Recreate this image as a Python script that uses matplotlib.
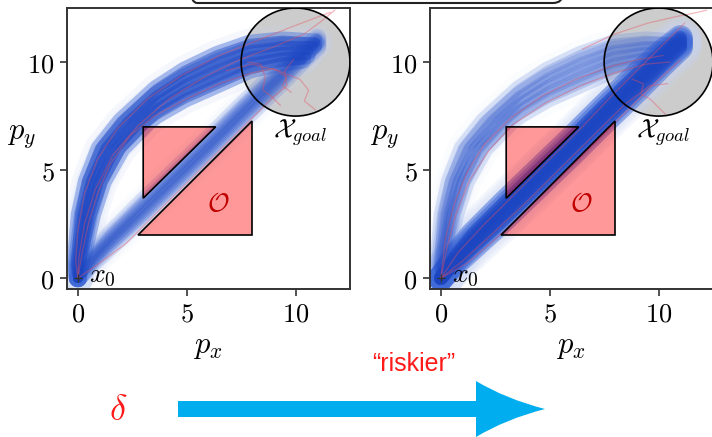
import matplotlib
matplotlib.use("Agg")
import matplotlib.pyplot as plt
from matplotlib.patches import Polygon, Circle, FancyBboxPatch, PathPatch
from matplotlib.path import Path

plt.rcParams['mathtext.fontset'] = 'cm'
plt.rcParams['font.family'] = ['DejaVu Sans']

# ---- scene -------------------------------------------------------------
tick_values = [0, 5, 10]
tick_labels = ['$0$', '$5$', '$10$']
axis_limits = (-0.5, 12.5)

# obstacle O, cut by a diagonal corridor
obstacle_upper = [(3.0, 7.0), (6.33, 7.0), (3.0, 3.70)]
obstacle_lower = [(2.74, 2.0), (8.0, 2.0), (8.0, 7.26)]

goal_center = (10.0, 10.0)
goal_radius = 2.5
start_point = (0.0, 0.0)

# ---- sampled trajectories ---------------------------------------------
# detour around the upper-left of the obstacle (outer -> inner member)
detour_x = [
    [0, -0.12, -0.04, 0.09, 0.41, 1.00, 1.98, 3.6, 4.9, 6.4, 7.9, 9.4, 10.9],
    [0, -0.06, 0.045, 0.23, 0.60, 1.25, 2.29, 3.6, 4.9, 6.4, 7.9, 9.4, 10.8],
    [0, 0.00, 0.13, 0.37, 0.78, 1.50, 2.60, 3.6, 4.9, 6.4, 7.9, 9.4, 10.6],
    [0, 0.06, 0.215, 0.51, 0.97, 1.75, 2.91, 3.6, 4.9, 6.4, 7.9, 9.4, 10.5],
    [0, 0.12, 0.30, 0.65, 1.15, 2.00, 3.22, 3.6, 4.9, 6.4, 7.9, 9.4, 10.3],
]
detour_y = [
    [0, 0.6, 1.4, 2.95, 4.48, 6.0, 7.25, 8.75, 9.60, 10.33, 10.85, 11.00, 10.90],
    [0, 0.6, 1.4, 2.95, 4.48, 6.0, 7.25, 8.45, 9.28, 9.99, 10.55, 10.75, 10.75],
    [0, 0.6, 1.4, 2.95, 4.48, 6.0, 7.25, 8.15, 8.95, 9.65, 10.25, 10.50, 10.55],
    [0, 0.6, 1.4, 2.95, 4.48, 6.0, 7.25, 7.85, 8.63, 9.31, 9.95, 10.25, 10.30],
    [0, 0.6, 1.4, 2.95, 4.48, 6.0, 7.25, 7.55, 8.30, 8.97, 9.65, 10.00, 10.10],
]

# straight run through the corridor (upper -> lower member)
corridor_x = [0, 0.7, 1.44, 3.0, 4.5, 6.0, 7.5, 9.0, 10.2, 11.0]
corridor_y = [
    [0, 1.08, 1.99, 3.56, 5.01, 6.46, 7.96, 9.41, 10.49, 11.12],
    [0, 0.99, 1.84, 3.38, 4.83, 6.28, 7.78, 9.23, 10.34, 11.01],
    [0, 0.90, 1.70, 3.20, 4.65, 6.10, 7.60, 9.05, 10.20, 10.90],
    [0, 0.81, 1.56, 3.02, 4.47, 5.92, 7.42, 8.87, 10.06, 10.79],
    [0, 0.72, 1.41, 2.84, 4.29, 5.74, 7.24, 8.69, 9.91, 10.68],
]

# constraint-violating samples, per panel
red_left_x = [
    [0, -0.1, 0.0, 0.3, 0.9, 1.8, 3.2, 4.8, 6.5, 8.0, 9.5, 10.8, 11.6],
    [0, 0.2, 0.5, 0.9, 1.5, 2.4, 3.5, 5.0, 6.5, 8.0, 9.0, 9.6, 9.4, 9.8],
    [0, 1.0, 2.2, 3.5, 5.0, 6.5, 8.0, 9.0, 9.6, 9.5, 9.9],
    [7.8, 8.4, 8.6, 8.5, 8.9, 9.3],
    [0, 0.05, 0.3, 0.8, 1.6, 2.8, 4.2, 5.8, 7.4, 9.0, 10.4, 11.2, 11.8],
    [6.8, 8.0, 9.2, 10.2, 10.6, 10.4, 10.9],
]
red_left_y = [
    [0, 0.8, 2.2, 3.9, 5.5, 6.9, 8.3, 9.4, 10.3, 10.9, 11.5, 12.0, 12.3],
    [0, 1.2, 2.6, 3.9, 5.3, 6.6, 7.5, 8.3, 9.0, 9.5, 9.7, 9.3, 8.9, 8.6],
    [0, 0.7, 1.6, 2.9, 4.4, 5.9, 7.4, 8.4, 8.9, 9.6, 10.1],
    [10.0, 9.9, 9.3, 8.7, 8.4, 8.0],
    [0, 1.0, 2.5, 4.1, 5.7, 7.1, 8.3, 9.3, 10.1, 10.7, 11.3, 11.9, 12.4],
    [9.6, 9.9, 9.6, 9.2, 8.7, 8.2, 7.8],
]
red_right_x = [
    [0, 1.2, 2.5, 4.0, 5.5, 7.0, 8.5, 9.8, 11.0],
    [0, 1.0, 2.3, 3.8, 5.4, 7.0, 8.4, 9.6, 10.4],
    [0, 0.8, 2.0, 3.5, 5.0, 6.5, 8.0, 9.5, 11.2],
    [0, 0.3, 0.7, 1.3, 2.2, 3.3, 4.8, 6.4, 8.0, 9.4, 10.5],
    [6.5, 8.0, 9.5, 10.8, 11.8, 12.2],
    [8.8, 9.3, 9.2, 9.6, 10.0, 10.3],
    [0, 0.2, 0.6, 1.2, 2.0, 3.2, 4.6, 6.2, 7.8, 9.0, 10.2],
]
red_right_y = [
    [0, 0.7, 1.8, 3.2, 4.7, 6.2, 7.7, 9.0, 10.1],
    [0, 0.8, 2.0, 3.4, 5.0, 6.6, 8.0, 8.9, 9.0],
    [0, 1.2, 2.5, 4.0, 5.5, 7.0, 8.6, 10.1, 11.8],
    [0, 1.5, 3.0, 4.5, 5.9, 7.1, 8.1, 8.9, 9.5, 9.9, 10.0],
    [10.6, 11.3, 11.8, 12.1, 12.3, 12.4],
    [9.2, 9.0, 8.5, 8.3, 7.9, 7.6],
    [0, 1.8, 3.4, 4.9, 6.2, 7.4, 8.4, 9.2, 9.8, 10.1, 10.3],
]

panels = [
    dict(left=67, detour_weight=1.4, corridor_weight=0.6, corridor_spread=1.0,
         red_x=red_left_x, red_y=red_left_y),
    dict(left=430, detour_weight=0.6, corridor_weight=1.7, corridor_spread=1.4,
         red_x=red_right_x, red_y=red_right_y),
]

W, H = 712, 437
fig = plt.figure(figsize=(W / 100, H / 100), dpi=100)

LINE = '#333333'
BAND_LAYERS = [  # (width, colour, opacity)
    (22, '#c9d5f4', 0.12),
    (13, '#3f6ad8', 0.30),
    (7, '#1c45c2', 0.32),
]


def draw_members(ax, xs, ys, weight, spread):
    style = dict(solid_capstyle='round', solid_joinstyle='round')
    for k, (lw, col, a) in enumerate(BAND_LAYERS):
        for x, y in zip(xs, ys):
            ax.plot(x, y, color=col, lw=lw * spread,
                    alpha=min(1.0, a * weight), zorder=2 + 0.05 * k, **style)


for p in panels:
    ax = fig.add_axes([p['left'] / W, (H - 289) / H, 283 / W, 281 / H])
    ax.set_xlim(*axis_limits)
    ax.set_ylim(*axis_limits)

    ax.add_patch(Circle(goal_center, goal_radius, facecolor='#cccccc',
                        edgecolor='none', zorder=1))

    draw_members(ax, detour_x, detour_y, p['detour_weight'], 1.0)
    cx = [corridor_x] * len(corridor_y)
    draw_members(ax, cx, corridor_y, p['corridor_weight'],
                 p['corridor_spread'])

    for x, y in zip(p['red_x'], p['red_y']):
        ax.plot(x, y, color='#e8505e', lw=0.9, alpha=0.4, zorder=2.3)

    ax.add_patch(Circle(goal_center, goal_radius, facecolor='none',
                        edgecolor='black', lw=1.2, zorder=3))
    for tri in (obstacle_upper, obstacle_lower):
        ax.add_patch(Polygon(tri, closed=True, facecolor=(1, 0, 0, 0.4),
                             edgecolor='black', lw=1.2, zorder=2.5))

    ax.plot(*start_point, marker='+', color='#333333', ms=6, mew=1.0,
            zorder=4)

    ax.text(0.5, 0.15, '$x_0$', fontsize=20, ha='left', va='center',
            zorder=5)
    ax.text(10.2, 6.75, r'$\mathcal{X}_{goal}$', fontsize=19, ha='center',
            va='center', zorder=5)
    ax.text(6.45, 3.45, r'$\mathcal{O}$', fontsize=19, color='#c00000',
            ha='center', va='center', zorder=5)

    ax.set_xticks(tick_values)
    ax.set_xticklabels(tick_labels)
    ax.set_yticks(tick_values)
    ax.set_yticklabels(tick_labels)
    ax.tick_params(labelsize=19, length=5, width=1.2, color=LINE,
                   direction='out', pad=4)
    for s in ax.spines.values():
        s.set_color(LINE)
        s.set_linewidth(1.4)

    ax.set_xlabel('$p_x$', fontsize=22, va='center')
    ax.xaxis.set_label_coords(0.498, -0.203)
    ax.set_ylabel('$p_y$', fontsize=22, rotation=0, va='center', ha='center')
    ax.yaxis.set_label_coords(-0.16, 0.548)

# framed title box running off the top edge
box = FancyBboxPatch((187 / 100, (H - 3) / 100), (563 - 187) / 100, 0.6,
                     boxstyle='round,pad=0,rounding_size=0.1',
                     transform=fig.dpi_scale_trans, facecolor='none',
                     edgecolor='#222222', lw=1.5)
fig.add_artist(box)

# "riskier" direction arrow
tail_x, shaft_end, tip_x = 178, 476, 545
yc, shaft_h, head_h = H - 409, 16, 56
verts = [
    (tail_x, yc - shaft_h / 2), (shaft_end, yc - shaft_h / 2),
    (shaft_end, yc - head_h / 2),
    (shaft_end + 30, yc - 10), (tip_x, yc),
    (shaft_end + 30, yc + 10), (shaft_end, yc + head_h / 2),
    (shaft_end, yc + shaft_h / 2), (tail_x, yc + shaft_h / 2),
    (tail_x, yc - shaft_h / 2),
]
codes = [Path.MOVETO, Path.LINETO, Path.LINETO, Path.CURVE3, Path.CURVE3,
         Path.CURVE3, Path.CURVE3, Path.LINETO, Path.LINETO, Path.CLOSEPOLY]
verts = [(vx / 100, vy / 100) for vx, vy in verts]
fig.add_artist(PathPatch(Path(verts, codes), transform=fig.dpi_scale_trans,
                         facecolor='#00adef', edgecolor='none'))

fig.text(414 / W, (H - 364) / H, '\u201criskier\u201d', color='#ff1a1a',
         fontsize=18, family='Liberation Sans', ha='center', va='center')
fig.text(118 / W, (H - 410) / H, r'$\delta$', color='#ff1a1a', fontsize=26,
         ha='center', va='center')

fig.savefig('out.png', dpi=100)
